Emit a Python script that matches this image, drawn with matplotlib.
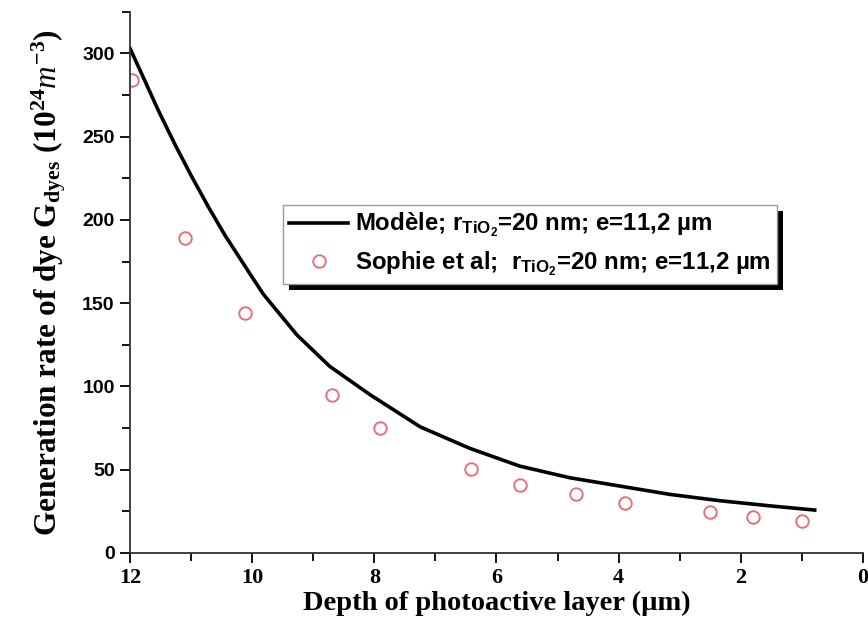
import matplotlib.pyplot as plt
from matplotlib.ticker import MultipleLocator
from matplotlib.patches import Rectangle
from matplotlib.transforms import IdentityTransform

plt.rcParams['mathtext.fontset'] = 'custom'
plt.rcParams['mathtext.rm'] = 'Liberation Serif:bold'
plt.rcParams['mathtext.it'] = 'Liberation Serif:italic'
plt.rcParams['mathtext.sf'] = 'Liberation Sans:bold'

# model curve
modelDepth = [12.0, 11.75, 11.54, 11.26, 10.99, 10.72, 10.45, 9.99, 9.82, 9.27,
              8.73, 8.07, 7.25, 6.44, 5.62, 4.80, 3.98, 3.16, 2.34, 1.49, 0.79]
modelRate = [303, 283, 266, 245, 226, 208, 191, 165, 155.5, 131,
             112, 95, 75.7, 62.8, 52.1, 45.1, 40.1, 35.1, 31.3, 28.1, 25.7]

# measured points (Sophie et al)
expDepth = [11.97, 11.1, 10.12, 8.70, 7.91, 6.41, 5.62, 4.70, 3.90, 2.51, 1.80, 1.0]
expRate = [284, 189, 144, 94.8, 74.8, 50.3, 40.7, 35.3, 30.1, 24.7, 21.7, 19.3]

labelModel = r"Modèle; r$_{\mathsf{TiO_2}}$=20 nm; e=11,2 µm"
labelExp = r"Sophie et al;  r$_{\mathsf{TiO_2}}$=20 nm; e=11,2 µm"

fig = plt.figure(figsize=(8.68, 6.35), dpi=100)
ax = fig.add_axes([0.1498, 0.1294, 0.8444, 0.852])

ax.plot(modelDepth, modelRate, color="black", lw=2.6, label=labelModel)
ax.plot(expDepth, expRate, ls="none", marker="o", ms=9, mfc="none",
        mec="#e8707a", mew=1.4, label=labelExp)

ax.set_xlim(12, 0)
ax.set_ylim(0, 325)
ax.xaxis.set_major_locator(MultipleLocator(2))
ax.xaxis.set_minor_locator(MultipleLocator(1))
ax.yaxis.set_major_locator(MultipleLocator(50))
ax.yaxis.set_minor_locator(MultipleLocator(25))

for s in ["top", "right"]:
    ax.spines[s].set_visible(False)
for s in ["left", "bottom"]:
    ax.spines[s].set_linewidth(1.3)
    ax.spines[s].set_color("#333333")

ax.tick_params(which="major", direction="out", length=7.5, width=1.3)
ax.tick_params(which="minor", direction="out", length=6, width=1.3)

for t in ax.get_xticklabels():
    t.set_fontfamily("Liberation Serif")
    t.set_fontweight("bold")
    t.set_fontsize(16)
for t in ax.get_yticklabels():
    t.set_fontfamily("Liberation Sans")
    t.set_fontweight("bold")
    t.set_fontsize(14)

ax.set_xlabel("Depth of photoactive layer (µm)", fontfamily="Liberation Serif",
              fontweight="bold", fontsize=20.5, labelpad=2)
ax.set_ylabel(r"Generation rate of dye G$_{\mathrm{dyes}}$ (10$^{24}$$m^{-3}$)",
              fontfamily="Liberation Serif", fontweight="bold", fontsize=22.5, labelpad=10)

leg = ax.legend(loc="upper left", bbox_to_anchor=(0.209, 0.643), borderaxespad=0,
                frameon=True, fancybox=False, framealpha=1,
                prop={"family": "Liberation Sans", "weight": "bold", "size": 17.3},
                handlelength=2.45, handletextpad=0.3, borderpad=0.25, labelspacing=0.45)
leg.get_frame().set_edgecolor("#999999")
leg.get_frame().set_facecolor("white")
leg.get_frame().set_linewidth(1.0)
leg.set_zorder(6)

# thick black drop shadow of the legend box
fig.canvas.draw()
bb = leg.get_window_extent()
ax.add_patch(Rectangle((bb.x0 + 6, bb.y0 - 6), bb.width, bb.height, transform=IdentityTransform(),
                       facecolor="black", edgecolor="none", zorder=5, clip_on=False))

fig.savefig("out.png", dpi=100)
